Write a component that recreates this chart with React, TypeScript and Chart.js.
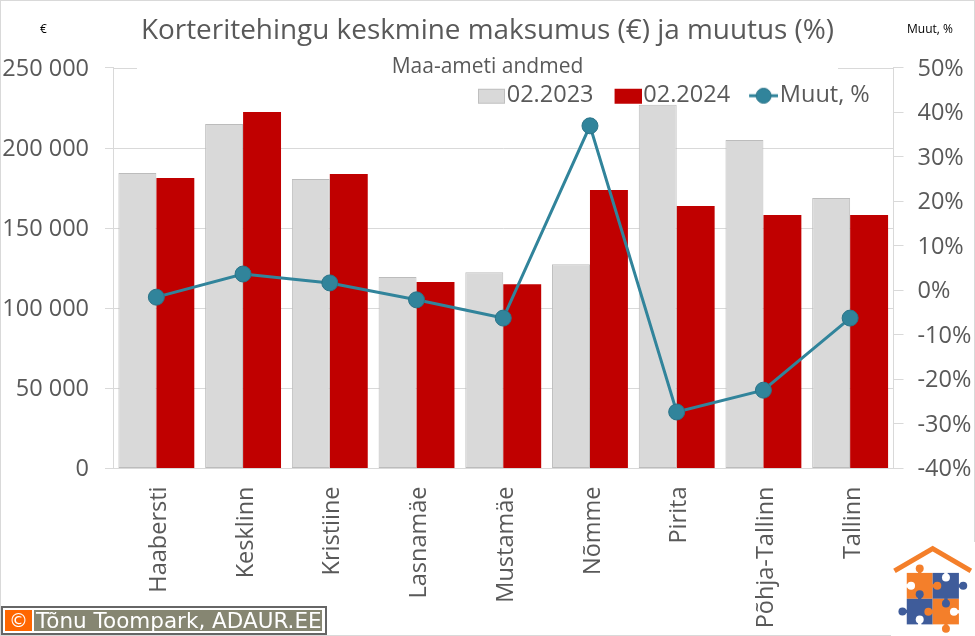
import React, { useEffect, useRef } from "react";
import { Chart, registerables } from "chart.js";

Chart.register(...registerables);

const categories = ["Haabersti", "Kesklinn", "Kristiine", "Lasnamäe", "Mustamäe", "Nõmme", "Pirita", "Põhja-Tallinn", "Tallinn"];
const values2023 = [184500, 215000, 180700, 119500, 122500, 127500, 227000, 205000, 168800];
const values2024 = [181300, 222500, 183800, 116400, 115000, 173800, 163800, 158200, 158200];
const changePct = [-1.5, 3.7, 1.7, -2.1, -6.2, 37, -27.3, -22.4, -6.2];

const FONT = "'Open Sans', sans-serif";
const TEXT = "#595959";
const GRID = "#d9d9d9";
const LINE = "#31849b";

function swatch(draw: (c: CanvasRenderingContext2D) => void) {
  const cv = document.createElement("canvas");
  cv.width = 34;
  cv.height = 18;
  const c = cv.getContext("2d")!;
  draw(c);
  return cv;
}

const layoutPlugin = {
  id: "layoutPlugin",
  beforeLayout(chart: any) {
    const legend = chart.legend;
    if (legend && !legend.__patched) {
      const fit = legend.fit.bind(legend);
      legend.fit = () => {
        fit();
        legend.height = 0;
      };
      legend.__patched = true;
    }
  },
  afterLayout(chart: any) {
    const legend = chart.legend;
    if (legend) {
      legend.left = 457;
      legend.right = 900;
      legend.top = 60;
      legend.bottom = 112;
      legend.width = 443;
      legend.height = 52;
    }
    const sub = chart.boxes.find((b: any) => b.options?.text === "Maa-ameti andmed");
    if (sub) sub.top = 54.5;
    const title = chart.titleBlock;
    if (title) title.top = 14.5;
  },
  beforeDatasetsDraw(chart: any) {
    const { ctx, chartArea, scales } = chart;
    const y = Math.round(scales.y.getPixelForValue(250000)) + 0.5;
    ctx.save();
    ctx.strokeStyle = GRID;
    ctx.lineWidth = 1;
    ctx.beginPath();
    ctx.moveTo(chartArea.left, y);
    ctx.lineTo(137, y);
    ctx.moveTo(838, y);
    ctx.lineTo(chartArea.right, y);
    ctx.stroke();
    ctx.restore();
  },
};

function Knob({ cx, cy, ex, ey, fill }: { cx: number; cy: number; ex: number; ey: number; fill: string }) {
  return (
    <g>
      <line x1={cx} y1={cy} x2={ex} y2={ey} stroke={fill} strokeWidth="10" />
      <circle cx={cx} cy={cy} r="12" fill={fill} />
    </g>
  );
}

function Logo() {
  const o = "#f47f2a";
  const b = "#3f5c9a";
  const w = "#fff";
  return (
    <svg
      viewBox="93 65 252 283"
      style={{ position: "absolute", left: 891, top: 542, width: 84, height: 94, background: "#fff" }}
    >
      <polyline points="103,152 218,85 333,152" fill="none" stroke={o} strokeWidth="15" />
      <rect x="140" y="158" width="78" height="78" fill={o} />
      <rect x="218" y="158" width="79" height="78" fill={b} />
      <rect x="140" y="236" width="78" height="77" fill={b} />
      <rect x="218" y="236" width="79" height="77" fill={o} />
      <Knob cx={179} cy={145} ex={179} ey={160} fill={o} />
      <Knob cx={153} cy={197} ex={138} ey={197} fill={w} />
      <Knob cx={232} cy={197} ex={216} ey={197} fill={o} />
      <Knob cx={258} cy={172} ex={258} ey={156} fill={w} />
      <Knob cx={310} cy={197} ex={295} ey={197} fill={b} />
      <Knob cx={179} cy={222} ex={179} ey={238} fill={b} />
      <Knob cx={258} cy={250} ex={258} ey={234} fill={b} />
      <Knob cx={282} cy={275} ex={299} ey={275} fill={w} />
      <Knob cx={127} cy={274} ex={142} ey={274} fill={b} />
      <Knob cx={205} cy={275} ex={220} ey={275} fill={o} />
      <Knob cx={179} cy={298} ex={179} ey={315} fill={w} />
      <Knob cx={258} cy={326} ex={258} ey={311} fill={o} />
    </svg>
  );
}

export default function App() {
  const ref = useRef<HTMLCanvasElement>(null);

  useEffect(() => {
    const grayIcon = swatch((c) => {
      c.fillStyle = "#d9d9d9";
      c.fillRect(7, 2, 26, 14);
      c.strokeStyle = "#bfbfbf";
      c.strokeRect(7.5, 2.5, 26, 14);
    });
    const redIcon = swatch((c) => {
      c.fillStyle = "#c00000";
      c.fillRect(7, 2, 27, 15);
    });
    const lineIcon = swatch((c) => {
      c.strokeStyle = LINE;
      c.lineWidth = 3;
      c.beginPath();
      c.moveTo(5, 9);
      c.lineTo(34, 9);
      c.stroke();
      c.fillStyle = LINE;
      c.strokeStyle = "#2a7388";
      c.lineWidth = 1;
      c.beginPath();
      c.arc(19.5, 9, 7.5, 0, Math.PI * 2);
      c.fill();
      c.stroke();
    });

    const chart = new Chart(ref.current!, {
      type: "bar",
      plugins: [layoutPlugin],
      data: {
        labels: categories,
        datasets: [
          {
            label: "02.2023",
            data: values2023,
            backgroundColor: "#d9d9d9",
            borderColor: "#bcbcbc",
            borderWidth: 1,
            borderSkipped: false,
            order: 2,
            yAxisID: "y",
            categoryPercentage: 0.875,
            barPercentage: 1,
          },
          {
            label: "02.2024",
            data: values2024,
            backgroundColor: "#c00000",
            order: 2,
            yAxisID: "y",
            categoryPercentage: 0.875,
            barPercentage: 1,
          },
          {
            type: "line",
            label: "Muut, %",
            data: changePct,
            borderColor: LINE,
            borderWidth: 3,
            backgroundColor: LINE,
            pointBackgroundColor: LINE,
            pointBorderColor: "#2a7388",
            pointBorderWidth: 1,
            pointRadius: 8,
            pointStyle: "circle",
            tension: 0,
            order: 1,
            yAxisID: "y1",
          },
        ] as any,
      },
      options: {
        responsive: false,
        animation: false,
        devicePixelRatio: 1,
        layout: { autoPadding: false, padding: 0 },
        plugins: {
          tooltip: { enabled: false },
          title: {
            display: true,
            text: "Korteritehingu keskmine maksumus (€) ja muutus (%)",
            color: TEXT,
            font: { family: FONT, size: 27.9, weight: "normal" },
            padding: 0,
          },
          subtitle: {
            display: true,
            text: "Maa-ameti andmed",
            color: TEXT,
            font: { family: FONT, size: 21, weight: "normal" },
            padding: { top: 0, bottom: 9.3 },
          },
          legend: {
            display: true,
            position: "top",
            align: "start",
            labels: {
              color: TEXT,
              font: { family: FONT, size: 23.5 },
              usePointStyle: true,
              pointStyleWidth: 14,
              padding: 24,
              generateLabels(c: any) {
                return c.data.datasets.map((d: any, i: number) => ({
                  text: d.label,
                  pointStyle: [grayIcon, redIcon, lineIcon][i],
                  datasetIndex: i,
                  fontColor: TEXT,
                  fillStyle: "transparent",
                  strokeStyle: "transparent",
                  lineWidth: 0,
                }));
              },
            },
          },
        },
        scales: {
          x: {
            type: "category",
            grid: { display: false, drawTicks: false },
            border: { color: GRID, width: 1 },
            ticks: {
              color: TEXT,
              font: { family: FONT, size: 23.5 },
              minRotation: 90,
              maxRotation: 90,
              autoSkip: false,
              padding: 18,
              labelOffset: 3,
            },
            afterFit(s: any) {
              s.height = 167.5;
            },
          },
          y: {
            position: "left",
            min: 0,
            max: 250000,
            afterBuildTicks(s: any) {
              s.ticks = [0, 50000, 100000, 150000, 200000, 250000].map((value) => ({ value }));
            },
            grid: {
              color: (c: any) => (c.tick.value === 250000 ? "transparent" : GRID),
              tickColor: GRID,
              tickLength: 8,
            },
            border: { color: GRID },
            ticks: {
              color: TEXT,
              font: { family: FONT, size: 23.5 },
              padding: 16,
              labelOffset: 1,
              callback: (v: any) => String(v).replace(/\B(?=(\d{3})+$)/g, " "),
            },
            afterFit(s: any) {
              s.width = 113;
            },
          },
          y1: {
            position: "right",
            min: -40,
            max: 50,
            grid: { display: true, drawOnChartArea: false, color: GRID, tickLength: 10 },
            border: { color: GRID },
            ticks: {
              color: TEXT,
              font: { family: FONT, size: 23.5 },
              stepSize: 10,
              padding: 14,
              labelOffset: 1,
              callback: (v: any) => v + "%",
            },
            afterFit(s: any) {
              s.width = 81.5;
            },
          },
        },
      } as any,
    });
    return () => chart.destroy();
  }, []);

  return (
    <div style={{ position: "absolute", left: 0, top: 0, width: 975, height: 636, background: "#fff", overflow: "hidden" }}>
      <canvas ref={ref} width={975} height={636} style={{ position: "absolute", left: 0, top: 0, display: "block" }} />
      <div style={{ position: "absolute", inset: 0, border: "1px solid #d9d9d9", pointerEvents: "none" }} />
      <div style={{ position: "absolute", left: 40, top: 20, fontFamily: FONT, fontSize: 12, color: "#000" }}>€</div>
      <div style={{ position: "absolute", left: 907, top: 20, fontFamily: FONT, fontSize: 12, color: "#000", whiteSpace: "nowrap" }}>Muut, %</div>
      <div
        style={{
          position: "absolute", left: 1, top: 606, width: 326, height: 29, boxSizing: "border-box",
          border: "2px solid #666", background: "#fff", fontFamily: "'DejaVu Sans', sans-serif", color: "#fff",
        }}
      >
        <div style={{ position: "absolute", left: 2, top: 2, width: 27, height: 21, background: "#ff6600", textAlign: "center", fontSize: 19, lineHeight: "21px" }}>©</div>
        <div style={{ position: "absolute", left: 31, top: 2, width: 288, height: 21, background: "#868672", fontSize: 21.5, lineHeight: "21px", paddingLeft: 2, whiteSpace: "nowrap", boxSizing: "border-box" }}>
          Tõnu Toompark, ADAUR.EE
        </div>
      </div>
      <Logo />
    </div>
  );
}
